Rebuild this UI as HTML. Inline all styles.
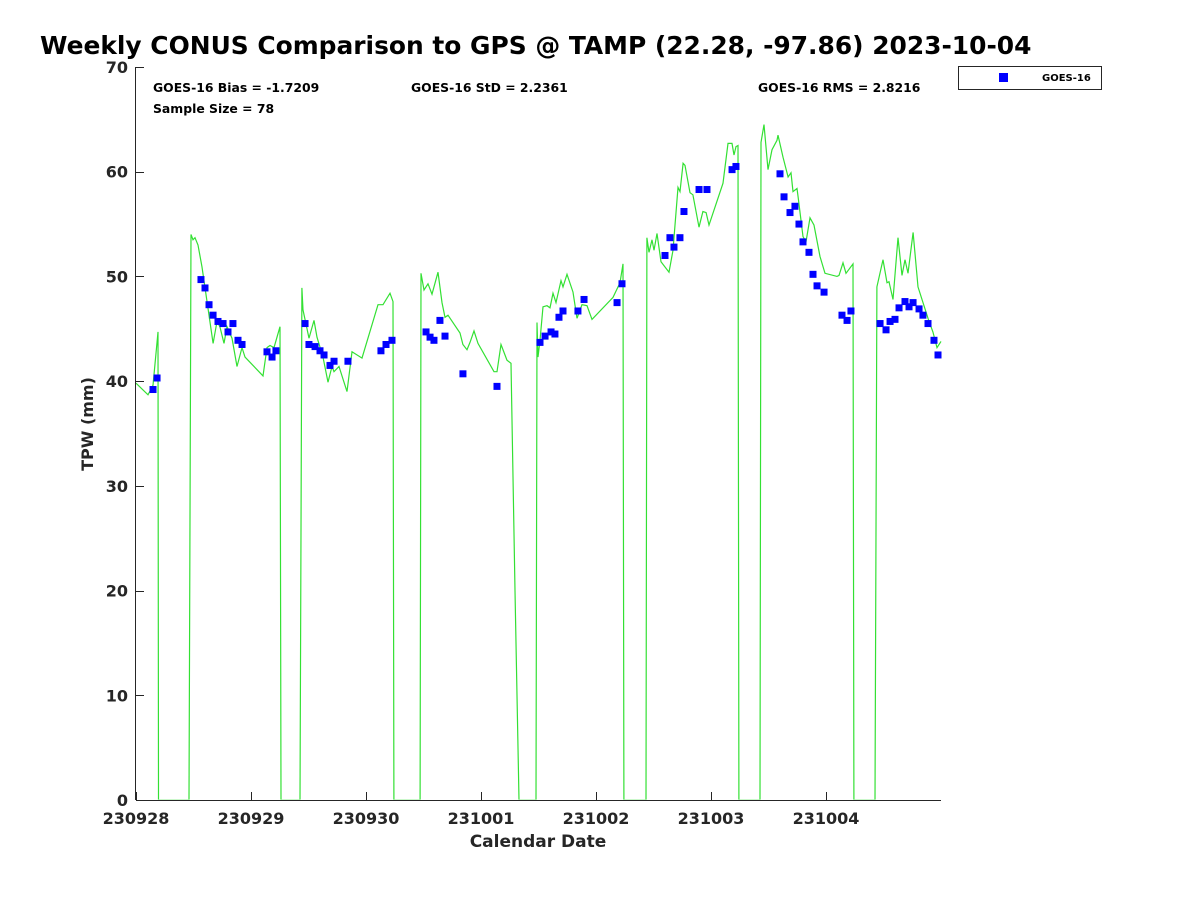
<!DOCTYPE html>
<html><head><meta charset="utf-8"><style>
body{margin:0;background:#fff;}
svg text{font-family:"DejaVu Sans","Liberation Sans",sans-serif;font-weight:bold;fill:#262626;}
</style></head><body>
<svg id="chart" width="1200" height="900" xmlns="http://www.w3.org/2000/svg">
<defs><clipPath id="plotclip"><rect x="136" y="60" width="810" height="739.6"/></clipPath></defs>
<rect width="1200" height="900" fill="#fff"/>
<text x="40" y="54" font-size="24.9" style="fill:#000">Weekly CONUS Comparison to GPS @ TAMP (22.28, -97.86) 2023-10-04</text>
<g id="gpsline" clip-path="url(#plotclip)"></g>
<g id="points"></g>
<g id="axes"></g>
<text x="153" y="92" font-size="12.4" style="fill:#000">GOES-16 Bias = -1.7209</text>
<text x="411" y="92" font-size="12.4" style="fill:#000">GOES-16 StD = 2.2361</text>
<text x="758" y="92" font-size="12.4" style="fill:#000">GOES-16 RMS = 2.8216</text>
<text x="153" y="113" font-size="12.4" style="fill:#000">Sample Size = 78</text>
<g>
<rect x="958.5" y="66.5" width="143" height="23" fill="#fff" stroke="#262626" stroke-width="1"/>
<rect x="999" y="73" width="9" height="9" fill="#0000ff"/>
<text x="1042" y="81" font-size="10" style="fill:#000">GOES-16</text>
</g>
<text x="538" y="847" font-size="17" text-anchor="middle">Calendar Date</text>
<text x="0" y="0" font-size="16" text-anchor="middle" transform="translate(93,424) rotate(-90)">TPW (mm)</text>
</svg>
<script>
const xTickLabels=["230928","230929","230930","231001","231002","231003","231004"];
const yTicks=[0,10,20,30,40,50,60,70];
const gpsDays=[0,.104,.148,.191,.196,.461,.478,.496,.513,.539,.574,.670,.704,.730,.765,.791,.835,.878,.922,.948,1.104,1.139,1.165,1.2,1.252,1.261,1.426,1.443,1.452,1.504,1.548,1.574,1.626,1.670,1.704,1.722,1.765,1.835,1.878,1.965,2.104,2.148,2.209,2.235,2.243,2.470,2.478,2.504,2.539,2.574,2.626,2.661,2.687,2.713,2.817,2.843,2.878,2.904,2.939,2.974,3.113,3.139,3.174,3.226,3.261,3.296,3.330,3.478,3.487,3.496,3.513,3.539,3.574,3.6,3.626,3.652,3.696,3.713,3.748,3.8,3.835,3.878,3.922,3.965,4.148,4.209,4.235,4.243,4.435,4.443,4.461,4.487,4.504,4.530,4.565,4.635,4.670,4.713,4.730,4.757,4.774,4.817,4.843,4.896,4.930,4.957,4.983,5.104,5.148,5.183,5.2,5.217,5.235,5.243,5.426,5.435,5.461,5.496,5.530,5.574,5.583,5.626,5.670,5.696,5.713,5.748,5.757,5.8,5.826,5.861,5.896,5.948,5.991,6.096,6.113,6.148,6.174,6.235,6.243,6.426,6.443,6.496,6.530,6.548,6.583,6.626,6.661,6.687,6.713,6.757,6.800,6.887,6.930,6.965,7.0];
const gpsTpw=[39.8,38.7,39.6,44.7,0,0,54.0,53.5,53.7,53.0,50.9,43.6,45.7,45.2,43.6,45.2,44.1,41.4,43.2,42.3,40.5,43.2,43.4,43.2,45.2,0,0,48.9,46.8,44.1,45.8,44.2,42.3,39.9,41.4,40.9,41.4,39.0,42.8,42.2,47.3,47.3,48.4,47.6,0,0,50.3,48.7,49.3,48.3,50.4,47.5,46.1,46.3,44.6,43.5,43.0,43.7,44.8,43.6,40.9,40.9,43.5,42.0,41.7,20,0,0,45.6,42.3,43.9,47.1,47.2,47.0,48.4,47.5,49.6,49.0,50.2,48.5,46.0,47.3,47.2,45.9,48.0,49.4,51.2,0,0,53.7,52.3,53.5,52.5,54.1,51.4,50.4,52.5,58.5,58.1,60.8,60.6,58.0,57.8,54.7,56.2,56.1,54.9,58.9,62.7,62.7,61.6,62.4,62.5,0,0,62.8,64.5,60.2,62.1,63.0,63.5,61.4,59.5,59.9,58.1,58.4,57.6,53.8,53.3,55.6,54.9,51.9,50.3,50.0,50.1,51.3,50.3,51.2,0,0,49.0,51.6,49.4,49.5,47.8,53.7,50.1,51.6,50.3,54.2,49.0,46.0,44.7,43.2,43.8];
const goesDays=[.148,.183,.565,.6,.635,.670,.713,.757,.8,.843,.887,.922,1.139,1.183,1.217,1.470,1.504,1.557,1.6,1.635,1.687,1.722,1.843,2.130,2.174,2.226,2.522,2.557,2.591,2.643,2.687,2.843,3.139,3.513,3.557,3.609,3.643,3.678,3.713,3.843,3.896,4.183,4.226,4.6,4.643,4.678,4.730,4.765,4.896,4.965,5.183,5.217,5.6,5.635,5.687,5.730,5.765,5.8,5.852,5.887,5.922,5.983,6.139,6.183,6.217,6.470,6.522,6.557,6.6,6.635,6.687,6.722,6.757,6.809,6.843,6.887,6.939,6.974];
const goesTpw=[39.2,40.3,49.7,48.9,47.3,46.3,45.7,45.5,44.7,45.5,43.9,43.5,42.8,42.3,42.9,45.5,43.5,43.3,42.9,42.5,41.5,41.9,41.9,42.9,43.5,43.9,44.7,44.2,43.9,45.8,44.3,40.7,39.5,43.7,44.3,44.7,44.5,46.1,46.7,46.7,47.8,47.5,49.3,52.0,53.7,52.8,53.7,56.2,58.3,58.3,60.2,60.5,59.8,57.6,56.1,56.7,55.0,53.3,52.3,50.2,49.1,48.5,46.3,45.8,46.7,45.5,44.9,45.7,45.9,47.0,47.6,47.1,47.5,46.9,46.3,45.5,43.9,42.5];

const X0=136,X1=941,Y0=800,Y1=67;
const xs=d=>X0+d*(X1-X0)/7;
const ys=v=>Y0-v*(Y0-Y1)/70;
const NS="http://www.w3.org/2000/svg";
function mk(tag,attrs,parent){const e=document.createElementNS(NS,tag);for(const k in attrs)e.setAttribute(k,attrs[k]);parent.appendChild(e);return e;}
const axes=document.getElementById('axes');
const xa=mk('line',{x1:X0,y1:Y0+0.5,x2:X1,y2:Y0+0.5,stroke:'#262626','stroke-width':1},axes);


const ya=mk('line',{x1:X0-0.5,y1:Y1,x2:X0-0.5,y2:Y0,stroke:'#262626','stroke-width':1},axes);


xTickLabels.forEach((l,i)=>{
  const x=Math.round(xs(i))+0.5;
  const t=mk('line',{x1:x,y1:Y0,x2:x,y2:Y0-8,stroke:'#262626'},axes);
  
  
  const tx=mk('text',{x:xs(i),y:824,'font-size':16,'text-anchor':'middle'},axes);
  tx.textContent=l;
  
  
});
yTicks.forEach(v=>{
  const y=Math.round(ys(v))+0.5;
  const t=mk('line',{x1:X0,y1:y,x2:X0+8,y2:y,stroke:'#262626'},axes);
  
  
  const tx=mk('text',{x:128,y:ys(v)+6,'font-size':16,'text-anchor':'end'},axes);
  tx.textContent=v;
  
  
});
const lg=document.getElementById('gpsline');
const pts=gpsDays.map((d,i)=>xs(d).toFixed(1)+','+ys(gpsTpw[i]).toFixed(1)).join(' ');
const pl=mk('polyline',{points:pts,fill:'none',stroke:'#33e033','stroke-width':1.2},lg);


const pg=document.getElementById('points');
goesDays.forEach((d,i)=>{
  const r=mk('rect',{x:xs(d)-3.5,y:ys(goesTpw[i])-3.5,width:7,height:7,fill:'#0000ff'},pg);
  
  
});
</script>
</body></html>
